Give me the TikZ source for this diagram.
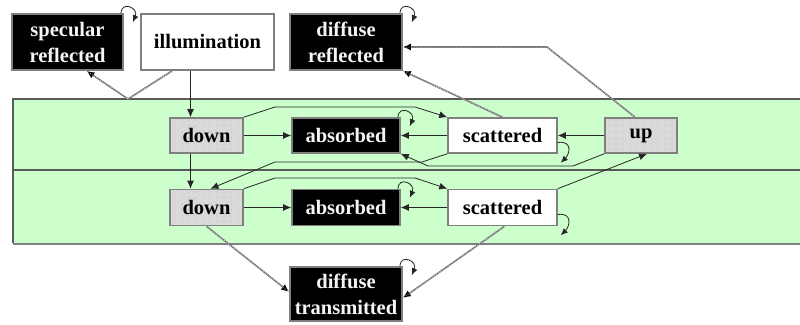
\documentclass[tikz,border=0pt]{standalone}
\usepackage{fontspec}
\setmainfont{Liberation Serif}
\usetikzlibrary{arrows.meta,calc,patterns.meta}
\definecolor{band}{HTML}{CCFFCC}
\definecolor{boxgray}{HTML}{D9D9D9}
\definecolor{edge}{HTML}{7F7F7F}
\tikzdeclarepattern{name=sparsedots, type=uncolored,
  bounding box={(-1pt,-1pt) and (1pt,1pt)}, tile size={(7pt,6pt)},
  code={\fill (0pt,0pt) circle (0.45pt);}}
\begin{document}
\begin{tikzpicture}[x=1pt,y=-1pt,
  lbl/.style={font=\fontsize{20.5}{26}\selectfont\bfseries, align=center, inner sep=0pt, line width=1.6pt, draw=edge},
  blackbox/.style={lbl, fill=black, text=white!92!gray},
  whitebox/.style={lbl, fill=white, text=black},
  graybox/.style={lbl, fill=boxgray, text=black, postaction={pattern=sparsedots, pattern color=gray}},
  arr/.style={draw=black!85, line width=0.8pt, -{Latex[length=8pt,width=7pt]}},
  looparr/.style={draw=black!85, line width=0.8pt, -{Latex[length=7pt,width=6pt]}},
  fancy/.style={draw=black!55, line width=1.6pt, -{Latex[length=8pt,width=7pt,color=black]},
    postaction={draw=gray!20, line width=0.5pt, dash pattern=on 1pt off 1.5pt, arrows=-}},
  bandline/.style={draw=black!65, line width=1.3pt}
]
\useasboundingbox (0,0) rectangle (800,324);
\clip (0,0) rectangle (800,324);
\fill[white] (0,0) rectangle (800,324);
% bands
\fill[band] (13,99) rectangle (812,243);
\draw[bandline] (812,99) -- (13,99) -- (13,243);
\draw[bandline] (13,170) -- (812,170);
\draw[draw=gray, line width=2pt] (13,243.5) -- (812,243.5);
% nodes
\node[blackbox, minimum width=111pt, minimum height=56pt] (spec) at (67.5,42) {specular\\reflected};
\node[whitebox, minimum width=133pt, minimum height=56pt] (illum) at (207.5,42) {illumination};
\node[blackbox, minimum width=112pt, minimum height=56pt] (difr) at (346,42) {diffuse\\reflected};
\node[graybox, minimum width=73pt, minimum height=35pt] (down1) at (206.5,135.5) {down};
\node[blackbox, minimum width=108pt, minimum height=35pt] (abs1) at (346,135.5) {absorbed};
\node[whitebox, minimum width=109pt, minimum height=35pt] (sca1) at (502.5,135.5) {scattered};
\node[graybox, minimum width=72pt, minimum height=35pt] (up) at (641,135.5) {up};
\node[graybox, minimum width=73pt, minimum height=36pt] (down2) at (206.5,207.5) {down};
\node[blackbox, minimum width=108pt, minimum height=36pt] (abs2) at (346,207.5) {absorbed};
\node[whitebox, minimum width=109pt, minimum height=36pt] (sca2) at (502.5,207.5) {scattered};
\node[blackbox, minimum width=112pt, minimum height=54pt] (dift) at (346,294) {diffuse\\transmitted};
% bend points
\coordinate (s1) at (128,99);
\coordinate (a1) at (275,107);
\coordinate (a2) at (415,107);
\coordinate (b1) at (547,47);
\coordinate (c1) at (422,162);
\coordinate (c2) at (275,162);
\coordinate (d1) at (573,166);
\coordinate (d2) at (428,166);
\coordinate (e1) at (275,178);
\coordinate (e2) at (415,178);
% connectors
\draw[arr] ($(illum.south)+(-17,0)$) -- ($(down1.north)+(-16,0)$);
\draw[fancy] ($(illum.south west)+(32,0)$) -- (s1) -- ($(spec.south)+(19,0)$);
\draw[arr] (down1.east) -- (abs1.west);
\draw[arr] (down1.north east) -- (a1) -- (a2) -- (sca1.north west);
\draw[arr] (sca1.west) -- (abs1.east);
\draw[arr] (up.west) -- (sca1.east);
\draw[fancy] (sca1.north) -- (difr.south east);
\draw[fancy] ($(up.north)+(-6,0)$) -- (b1) -- ($(difr.east)+(0,5)$);
\draw[arr] (sca1.south west) -- (c1) -- (c2) -- ($(down2.north)+(4,0)$);
\draw[arr] (up.south west) -- (d1) -- (d2) -- (abs1.south east);
\draw[arr] ($(down1.south)+(-16,0)$) -- ($(down2.north)+(-16,0)$);
\draw[arr] (down2.east) -- (abs2.west);
\draw[arr] (down2.north east) -- (e1) -- (e2) -- (sca2.north west);
\draw[arr] (sca2.west) -- (abs2.east);
\draw[arr] (sca2.north east) -- ($(up.south)+(6,0)$);
\draw[fancy] ($(sca2.south)+(2,0)$) -- ($(dift.east)+(0,4)$);
\draw[fancy] (down2.south) -- ($(dift.west)+(0,-2)$);
% self loops
\foreach \n in {spec,difr,abs1,abs2,dift}{
  \draw[looparr] ($(\n.north east)+(-3,0)$) .. controls +(1,-13) and +(6,-14) .. ($(\n.north east)+(9,9)$);
}
\foreach \n in {sca1,sca2}{
  \draw[looparr] ($(\n.east)+(0,7)$) .. controls +(15,-2) and +(9,-9) .. ($(\n.south east)+(3,9)$);
}
\end{tikzpicture}
\end{document}
